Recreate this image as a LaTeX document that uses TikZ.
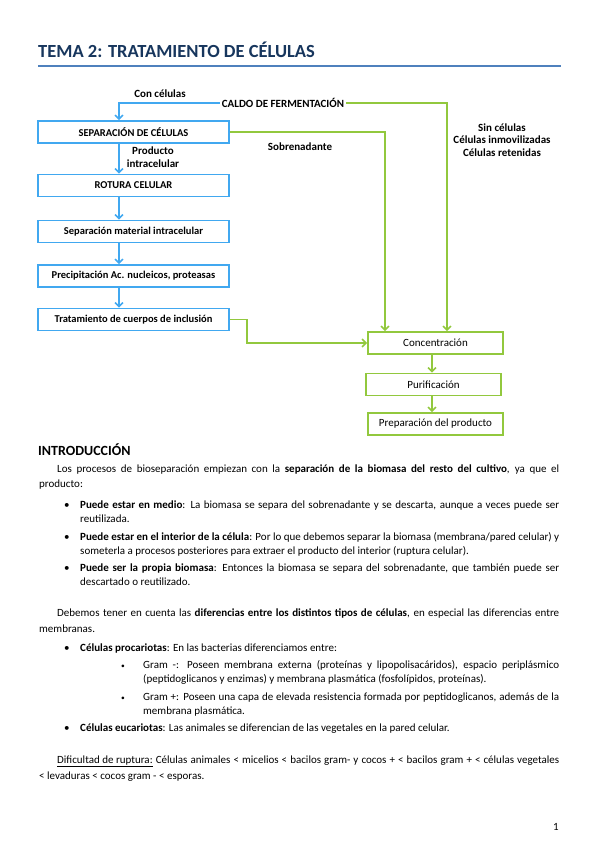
\documentclass[tikz,border=0pt]{standalone}
\usepackage{fontspec}
\setmainfont{Carlito}
\usetikzlibrary{positioning, arrows.meta}

\definecolor{titleblue}{HTML}{17365D}
\definecolor{ruleblue}{HTML}{4F81BD}
\definecolor{flowblue}{HTML}{41A8F0}
\definecolor{flowgreen}{HTML}{92C83E}

% justified line of a given width
\newcommand{\jline}[2]{\makebox[#1][s]{#2}}

\begin{document}
\begin{tikzpicture}[
  x=1pt, y=-1pt,
  bluebox/.style={draw=flowblue, line width=1.6pt, fill=white, minimum width=191pt,
                  minimum height=22pt, inner sep=0pt, font=\fontsize{10.5}{12}\selectfont\bfseries},
  greenbox/.style={draw=flowgreen, line width=1.6pt, fill=white, minimum width=135pt,
                   minimum height=22pt, inner sep=0pt, font=\fontsize{11}{13}\selectfont},
  barr/.style={-{Straight Barb[length=4pt, width=8pt]}, line width=1.6pt, color=flowblue},
  garr/.style={-{Straight Barb[length=4pt, width=8pt]}, line width=1.6pt, color=flowgreen},
  lbl/.style={font=\fontsize{11}{12.5}\selectfont\bfseries, align=center, inner sep=1pt},
  txt/.style={anchor=base west, inner sep=0pt, font=\fontsize{11}{13}\selectfont},
  dot/.style={anchor=base west, inner sep=0pt, font=\fontsize{11}{13}\selectfont},
  subdot/.style={anchor=base west, inner sep=0pt, font=\fontsize{7.5}{8}\selectfont},
]
\useasboundingbox (0,0) rectangle (599,848);

% Heading
\node[anchor=base west, inner sep=0pt, font=\fontsize{18.5}{22}\selectfont\bfseries,
      text=titleblue] (title) at (38,58) {TEMA 2: TRATAMIENTO DE CÉLULAS};
\coordinate (ruleL) at (38,66);
\coordinate (ruleR) at (561,66);
\draw[ruleblue, line width=1.2pt] (ruleL) -- (ruleR);

% Cell line (left)
\node[bluebox] (sep) at (133.5,132) {SEPARACIÓN DE CÉLULAS};
\node[bluebox] (rot) at (133.5,185.5) {ROTURA CELULAR};
\node[bluebox] (sepmat) at (133.5,231.5) {Separación material intracelular};
\node[bluebox] (prec) at (133.5,276) {Precipitación Ac. nucleicos, proteasas};
\node[bluebox] (trat) at (133.5,319.5) {Tratamiento de cuerpos de inclusión};

% Product line (right)
\node[greenbox] (conc) at (435.5,343) {Concentración};
\node[greenbox] (purif) at (433.5,384.5) {Purificación};
\node[greenbox] (prep) at (435.5,424) {Preparación del producto};

% Feed
\node[font=\fontsize{11}{13}\selectfont\bfseries, inner sep=2pt] (caldo) at (283,103) {CALDO DE FERMENTACIÓN};

% Labels
\node[lbl] (con) at (160,94) {Con células};
\node[lbl] (prod) at (153,157) {Producto\\intracelular};
\node[lbl] (sobre) at (300,147) {Sobrenadante};
\node[lbl] (sin) at (502,140) {Sin células\\Células inmovilizadas\\Células retenidas};

% Guide lines
\coordinate (colL) at (119,0);
\coordinate (colS) at (385,0);
\coordinate (colC) at (447,0);
\coordinate (colT) at (247,0);
\coordinate (colR) at (432,0);

% Arrows
\draw[barr] (caldo.west) -| (colL |- sep.north);
\draw[garr] (caldo.east) -| (colC |- conc.north);
\draw[garr] (sep.east) -| (colS |- conc.north);
\draw[barr] (colL |- sep.south) -- (colL |- rot.north);
\draw[barr] (colL |- rot.south) -- (colL |- sepmat.north);
\draw[barr] (colL |- sepmat.south) -- (colL |- prec.north);
\draw[barr] (colL |- prec.south) -- (colL |- trat.north);
\draw[garr] (trat.east) -| (colT |- conc.west) -- (conc.west);
\draw[garr] (colR |- conc.south) -- (colR |- purif.north);
\draw[garr] (colR |- purif.south) -- (colR |- prep.north);

% Text
\node[anchor=base west, inner sep=0pt, font=\fontsize{14}{16}\selectfont\bfseries] (intro) at (38,455) {INTRODUCCIÓN};

\node[txt] (p1a) at (57,472) {\jline{502pt}{Los procesos de bioseparación empiezan con la \textbf{separación de la biomasa del resto del cultivo}, ya que el}};
\node[txt] (p1b) at (39,487) {producto:};

\node[dot] (d1) at (64,508) {•};
\node[txt] (b1a) at (80,508) {\jline{479pt}{\textbf{Puede estar en medio}: La biomasa se separa del sobrenadante y se descarta, aunque a veces puede ser}};
\node[txt] (b1b) at (80,522) {reutilizada.};
\node[dot] (d2) at (64,540) {•};
\node[txt] (b2a) at (80,540) {\jline{479pt}{\textbf{Puede estar en el interior de la célula}: Por lo que debemos separar la biomasa (membrana/pared celular) y}};
\node[txt] (b2b) at (80,554) {someterla a procesos posteriores para extraer el producto del interior (ruptura celular).};
\node[dot] (d3) at (64,571) {•};
\node[txt] (b3a) at (80,571) {\jline{479pt}{\textbf{Puede ser la propia biomasa}: Entonces la biomasa se separa del sobrenadante, que también puede ser}};
\node[txt] (b3b) at (80,585) {descartado o reutilizado.};

\node[txt] (p2a) at (57,616) {\jline{502pt}{Debemos tener en cuenta las \textbf{diferencias entre los distintos tipos de células}, en especial las diferencias entre}};
\node[txt] (p2b) at (39,632) {membranas.};

\node[dot] (d4) at (64,651) {•};
\node[txt] (b4) at (80,651) {\textbf{Células procariotas}: En las bacterias diferenciamos entre:};
\node[subdot] (s1) at (121,668) {•};
\node[txt] (s1a) at (143,668) {\jline{416pt}{Gram -: Poseen membrana externa (proteínas y lipopolisacáridos), espacio periplásmico}};
\node[txt] (s1b) at (143,682) {(peptidoglicanos y enzimas) y membrana plasmática (fosfolípidos, proteínas).};
\node[subdot] (s2) at (121,700) {•};
\node[txt] (s2a) at (143,700) {\jline{416pt}{Gram +: Poseen una capa de elevada resistencia formada por peptidoglicanos, además de la}};
\node[txt] (s2b) at (143,714) {membrana plasmática.};
\node[dot] (d5) at (64,731) {•};
\node[txt] (b5) at (80,731) {\textbf{Células eucariotas}: Las animales se diferencian de las vegetales en la pared celular.};

\node[txt] (p3a) at (57,763) {\jline{502pt}{\underline{Dificultad de ruptura:} Células animales < micelios < bacilos gram- y cocos + < bacilos gram + < células vegetales}};
\node[txt] (p3b) at (39,779) {< levaduras < cocos gram - < esporas.};

\node[txt] (page) at (553,830) {1};

\end{tikzpicture}
\end{document}
